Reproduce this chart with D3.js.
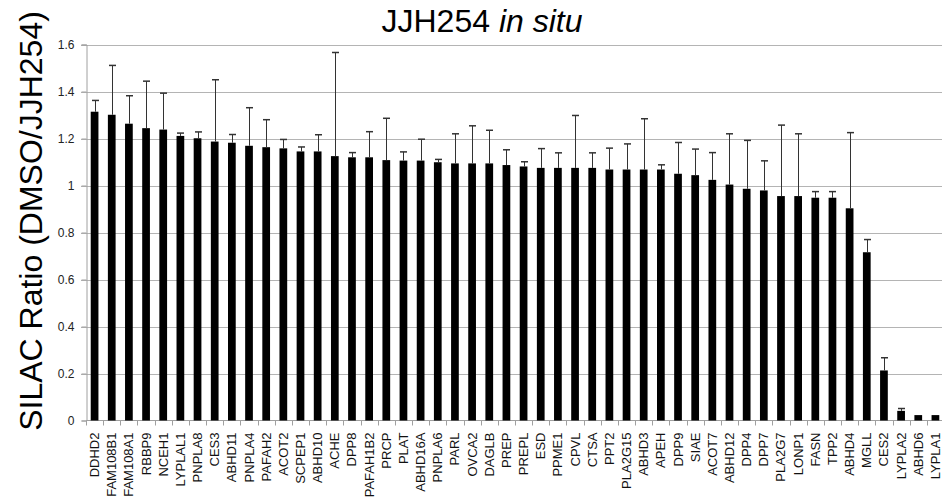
<!DOCTYPE html>
<html>
<head>
<meta charset="utf-8">
<script src="https://cdn.jsdelivr.net/npm/d3@7"></script>
<style>
  html, body { margin: 0; padding: 0; background: #fff; }
  svg { display: block; font-family: "Liberation Sans", Arial, sans-serif; }
</style>
</head>
<body>
<svg id="svgChart" width="942" height="501"></svg>
<script>
// Protein names, in plotted order
let proteins = [
  "DDHD2", "FAM108B1", "FAM108A1", "RBBP9", "NCEH1", "LYPLAL1", "PNPLA8",
  "CES3", "ABHD11", "PNPLA4", "PAFAH2", "ACOT2", "SCPEP1", "ABHD10", "ACHE",
  "DPP8", "PAFAH1B2", "PRCP", "PLAT", "ABHD16A", "PNPLA6", "PARL", "OVCA2",
  "DAGLB", "PREP", "PREPL", "ESD", "PPME1", "CPVL", "CTSA", "PPT2", "PLA2G15",
  "ABHD3", "APEH", "DPP9", "SIAE", "ACOT7", "ABHD12", "DPP4", "DPP7", "PLA2G7",
  "LONP1", "FASN", "TPP2", "ABHD4", "MGLL", "CES2", "LYPLA2", "ABHD6", "LYPLA1"
];

// Mean SILAC ratio (DMSO/JJH254)
let ratios = [
  1.314, 1.301, 1.263, 1.244, 1.238, 1.211, 1.201,
  1.187, 1.182, 1.169, 1.163, 1.158, 1.145, 1.145, 1.125,
  1.120, 1.120, 1.108, 1.106, 1.106, 1.099, 1.094, 1.094,
  1.094, 1.087, 1.081, 1.075, 1.075, 1.075, 1.075, 1.068, 1.068,
  1.068, 1.068, 1.050, 1.044, 1.024, 1.004, 0.986, 0.979, 0.955,
  0.955, 0.948, 0.948, 0.903, 0.716, 0.213, 0.041, 0.023, 0.023
];

// Upper error bar lengths
let errors = [
  0.048, 0.210, 0.119, 0.200, 0.155, 0.012, 0.027,
  0.263, 0.035, 0.162, 0.117, 0.038, 0.019, 0.071, 0.441,
  0.020, 0.109, 0.178, 0.037, 0.091, 0.012, 0.126, 0.160,
  0.141, 0.065, 0.020, 0.082, 0.064, 0.223, 0.064, 0.091, 0.109,
  0.216, 0.020, 0.133, 0.111, 0.116, 0.216, 0.206, 0.126, 0.302,
  0.265, 0.026, 0.026, 0.322, 0.054, 0.054, 0.010, 0, 0
];

let yTicks = [0, 0.2, 0.4, 0.6, 0.8, 1, 1.2, 1.4, 1.6];


/*** Operations ***/

let svg = d3.select("#svgChart");

// Plot area
let plotLeft = 86, plotRight = 944, plotTop = 44.5, plotBottom = 420.5;

let data = proteins.map((p, i) => ({name: p, value: ratios[i], err: errors[i]}));

let x = d3.scaleBand()
  .domain(proteins)
  .range([plotLeft, plotRight])
  .paddingInner(0.55)
  .paddingOuter(0.275);

let y = d3.scaleLinear()
  .domain([0, 1.6])
  .range([plotBottom, plotTop]);

// Gridlines
svg.append("g")
    .attr("stroke", "#b4b4b4")
    .attr("stroke-width", 1)
  .selectAll("line")
  .data(yTicks.filter(d => d > 0))
  .join("line")
    .attr("x1", plotLeft - 5)
    .attr("x2", 942)
    .attr("y1", d => Math.round(y(d)) + 0.5)
    .attr("y2", d => Math.round(y(d)) + 0.5);

// Y axis
let yAxis = svg.append("g")
  .attr("transform", `translate(${plotLeft + 0.5}, 0)`)
  .call(d3.axisLeft(y).tickValues(yTicks).tickSize(5).tickPadding(7)
    .tickFormat(d3.format("")));
yAxis.select(".domain").attr("stroke", "#a0a0a0");
yAxis.selectAll(".tick line").attr("stroke", "#a0a0a0");
yAxis.selectAll(".tick text")
  .attr("font-size", "12px")
  .attr("font-family", "Liberation Sans, Arial, sans-serif")
  .attr("fill", "#222");

// X axis line and category ticks
svg.append("line")
  .attr("x1", plotLeft)
  .attr("x2", 942)
  .attr("y1", plotBottom)
  .attr("y2", plotBottom)
  .attr("stroke", "#a0a0a0");

svg.append("g")
    .attr("stroke", "#a0a0a0")
  .selectAll("line")
  .data(d3.range(proteins.length + 1))
  .join("line")
    .attr("x1", i => Math.round(plotLeft + i * x.step()) + 0.5)
    .attr("x2", i => Math.round(plotLeft + i * x.step()) + 0.5)
    .attr("y1", plotBottom)
    .attr("y2", plotBottom + 5);

// Bars
svg.append("g")
    .attr("fill", "#000")
  .selectAll("rect")
  .data(data)
  .join("rect")
    .attr("x", d => x(d.name))
    .attr("width", x.bandwidth())
    .attr("y", d => y(d.value))
    .attr("height", d => plotBottom - y(d.value));

// Error bars (upper only)
let errG = svg.append("g")
    .attr("stroke", "#333")
    .attr("fill", "none")
  .selectAll("g")
  .data(data.filter(d => d.err > 0))
  .join("g")
    .attr("transform", d => `translate(${Math.round(x(d.name) + x.bandwidth() / 2) + 0.5}, 0)`);

errG.append("line")
  .attr("y1", d => y(d.value))
  .attr("y2", d => y(d.value + d.err))
  .attr("stroke-width", 1);

errG.append("line")
  .attr("x1", -3.5)
  .attr("x2", 3.5)
  .attr("y1", d => y(d.value + d.err))
  .attr("y2", d => y(d.value + d.err))
  .attr("stroke-width", 1.5);

// Category labels
svg.append("g")
    .attr("font-size", "13px")
    .attr("fill", "#111")
    .attr("text-anchor", "end")
  .selectAll("text")
  .data(proteins)
  .join("text")
    .attr("transform", d => `translate(${x(d) + x.bandwidth() / 2 + 4.5}, ${plotBottom + 12}) rotate(-90)`)
    .text(d => d);

// Title
let title = svg.append("text")
  .attr("x", 482)
  .attr("y", 32)
  .attr("text-anchor", "middle")
  .attr("font-size", "32px")
  .attr("fill", "#000");
title.append("tspan").text("JJH254 ");
title.append("tspan").attr("font-style", "italic").text("in situ");

// Y axis title
svg.append("text")
  .attr("transform", "translate(42, 221) rotate(-90)")
  .attr("text-anchor", "middle")
  .attr("font-size", "32px")
  .attr("fill", "#000")
  .text("SILAC Ratio (DMSO/JJH254)");
</script>
</body>
</html>
